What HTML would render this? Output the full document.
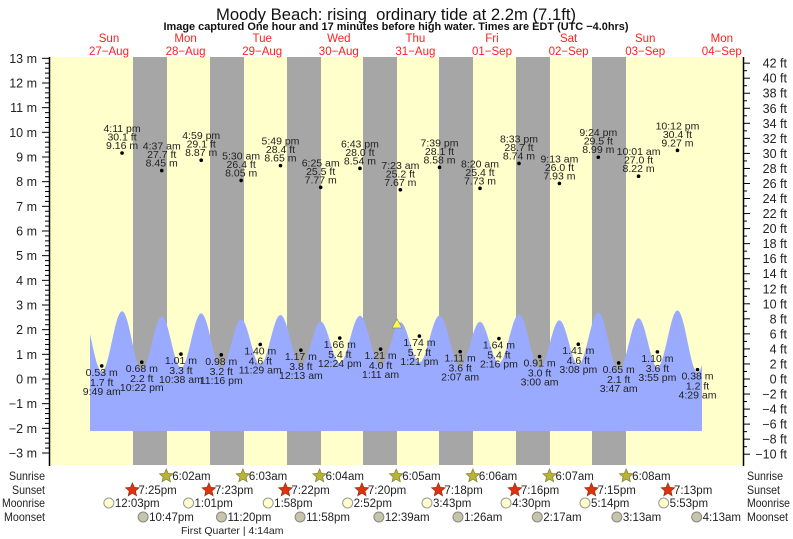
<!DOCTYPE html>
<html><head><meta charset="utf-8"><style>
html,body{margin:0;padding:0;background:#fff;}
svg{display:block;font-family:"Liberation Sans",sans-serif;}
</style></head><body>
<svg id="s" width="793" height="539" xmlns="http://www.w3.org/2000/svg"></svg>
<script>
const S=document.getElementById('s');let h='';
const X0=147,PH=76.6/24;
const xt=(d,hh,mm,pm)=>{let H=(hh%12)+(pm?12:0)+mm/60;return X0+(d*24+H)*PH;};
const ym=m=>453-(m+3)*24.667;
h+='<rect x="50" y="57" width="693" height="408" fill="#ffffcc"/>';
[133,210,287,363,439,516,592].forEach(x=>h+=`<rect x="${x}" y="57" width="34" height="408" fill="#a6a6a6"/>`);
const ex=[
[-1,9,49,0,0.53,'L'],[-1,4,11,1,9.16,'H','4:11 pm','30.1 ft'],[-1,10,22,1,0.68,'L'],
[0,4,37,0,8.45,'H','4:37 am','27.7 ft'],[0,10,38,0,1.01,'L'],[0,4,59,1,8.87,'H','4:59 pm','29.1 ft'],[0,11,16,1,0.98,'L'],
[1,5,30,0,8.05,'H','5:30 am','26.4 ft'],[1,11,29,0,1.40,'L'],[1,5,49,1,8.65,'H','5:49 pm','28.4 ft'],[2,0,13,0,1.17,'L'],
[2,6,25,0,7.77,'H','6:25 am','25.5 ft'],[2,0,24,1,1.66,'L'],[2,6,43,1,8.54,'H','6:43 pm','28.0 ft'],[3,1,11,0,1.21,'L'],
[3,7,23,0,7.67,'H','7:23 am','25.2 ft'],[3,1,21,1,1.74,'L'],[3,7,39,1,8.58,'H','7:39 pm','28.1 ft'],[4,2,7,0,1.11,'L'],
[4,8,20,0,7.73,'H','8:20 am','25.4 ft'],[4,2,16,1,1.64,'L'],[4,8,33,1,8.74,'H','8:33 pm','28.7 ft'],[5,3,0,0,0.91,'L'],
[5,9,13,0,7.93,'H','9:13 am','26.0 ft'],[5,3,8,1,1.41,'L'],[5,9,24,1,8.99,'H','9:24 pm','29.5 ft'],[6,3,47,0,0.65,'L'],
[6,10,1,0,8.22,'H','10:01 am','27.0 ft'],[6,3,55,1,1.10,'L'],[6,10,12,1,9.27,'H','10:12 pm','30.4 ft'],[7,4,29,0,0.38,'L']];
const lowTxt=['9:49 am','10:22 pm','10:38 am','11:16 pm','11:29 am','12:13 am','12:24 pm','1:11 am','1:21 pm','2:07 am','2:16 pm','3:00 am','3:08 pm','3:47 am','3:55 pm','4:29 am'];
const pts=ex.map(e=>[xt(e[0],e[1],e[2],e[3]),e[4]*0.3+(e[5]=='L'?0.15:0)]);
let poly=[];const x0=90,x1=702;
for(let x=x0;x<=x1;x+=1){let i=0;while(i<pts.length-2&&pts[i+1][0]<x)i++;
 let a=pts[i],b=pts[i+1];let t=(x-a[0])/(b[0]-a[0]);t=Math.max(-0.6,Math.min(1.6,t));
 let v=a[1]+(b[1]-a[1])*(1-Math.cos(Math.PI*t))/2;poly.push(x+','+ym(v).toFixed(1));}
h+=`<polygon points="${x0},431 ${poly.join(' ')} ${x1},431" fill="#9aaaff"/>`;
let li=0;
ex.forEach((e,k)=>{const x=pts[k][0],y=ym(e[4]);h+=`<circle cx="${x}" cy="${y}" r="1.8" fill="#000"/>`;
 const T=(t,yy)=>h+=`<text x="${x}" y="${yy}" font-size="10.5" text-anchor="middle" fill="#222">${t}</text>`;
 if(e[5]=='H'){T(e[6],y-21);T(e[7],y-12.5);T(e[4].toFixed(2)+' m',y-4);}
 else{T(e[4].toFixed(2)+' m',y+10);T((e[4]*3.2808).toFixed(1)+' ft',y+20);T(lowTxt[li++],y+29);}
});
h+=`<polygon points="397,319 392,328 402,328" fill="#ffff44" stroke="#888" stroke-width="0.7"/>`;
h+='<line x1="49.5" y1="57" x2="49.5" y2="466" stroke="#000" stroke-width="1.5"/><line x1="743.5" y1="57" x2="743.5" y2="466" stroke="#000" stroke-width="1.5"/>';
for(let m=-3;m<=13;m++){const y=ym(m);h+=`<line x1="42" y1="${y}" x2="49" y2="${y}" stroke="#000"/><text x="37" y="${y+4.5}" font-size="12.5" text-anchor="end" fill="#222">${String(m).replace('-','\u2212')} m</text>`;
 if(m<13)for(let j=1;j<5;j++){const yy=y-j*24.667/5;h+=`<line x1="45" y1="${yy}" x2="49" y2="${yy}" stroke="#000"/>`;}}
for(let f=-10;f<=42;f++){const y=379-f*7.52;if(y<57||y>465)continue;
 if(f%2==0){h+=`<line x1="743" y1="${y}" x2="750" y2="${y}" stroke="#000"/><text x="787" y="${y+4.5}" font-size="12.5" text-anchor="end" fill="#222">${String(f).replace('-','\u2212')} ft</text>`;}
 else h+=`<line x1="743" y1="${y}" x2="747" y2="${y}" stroke="#000"/>`;}
h+='<text x="396" y="20" font-size="17" text-anchor="middle" fill="#111" textLength="360" lengthAdjust="spacingAndGlyphs">Moody Beach: rising\u00a0 ordinary tide at 2.2m (7.1ft)</text>';
h+='<text x="396" y="30" font-size="11" font-weight="bold" text-anchor="middle" fill="#111" textLength="465" lengthAdjust="spacingAndGlyphs">Image captured One hour and 17 minutes before high water. Times are EDT (UTC \u22124.0hrs)</text>';
const days=[['Sun','27\u2212Aug'],['Mon','28\u2212Aug'],['Tue','29\u2212Aug'],['Wed','30\u2212Aug'],['Thu','31\u2212Aug'],['Fri','01\u2212Sep'],['Sat','02\u2212Sep'],['Sun','03\u2212Sep'],['Mon','04\u2212Sep']];
days.forEach((d,i)=>{const x=109+i*76.6;h+=`<text x="${x}" y="42" font-size="11.5" text-anchor="middle" fill="#ff2020">${d[0]}</text><text x="${x}" y="55" font-size="11.5" text-anchor="middle" fill="#ff2020">${d[1]}</text>`;});
const rows=[['Sunrise',480,36],['Sunset',494,33],['Moonrise',507,43],['Moonset',521,41]];
rows.forEach(r=>{h+=`<text x="${45-r[2]}" y="${r[1]}" font-size="12" fill="#222" textLength="${r[2]}" lengthAdjust="spacingAndGlyphs">${r[0]}</text><text x="747" y="${r[1]}" font-size="12" fill="#222" textLength="${r[2]}" lengthAdjust="spacingAndGlyphs">${r[0]}</text>`;});
const star=(x,y,c,s)=>{let p=[];for(let i=0;i<10;i++){const a=-Math.PI/2+i*Math.PI/5,rr=i%2?3.2:7;p.push((x+rr*Math.cos(a)).toFixed(1)+','+(y+rr*Math.sin(a)).toFixed(1));}return `<polygon points="${p.join(' ')}" fill="${c}" stroke="${s}" stroke-width="0.8"/>`;};
['6:02am','6:03am','6:04am','6:05am','6:06am','6:07am','6:08am'].forEach((t,i)=>{const x=xt(i,6,2+i,0);h+=star(x,476,'#b8b43a','#8a8630')+`<text x="${x+6}" y="480" font-size="11.5" fill="#222">${t}</text>`;});
['7:25pm','7:23pm','7:22pm','7:20pm','7:18pm','7:16pm','7:15pm','7:13pm'].forEach((t,i)=>{const mm=+t.split(':')[1].slice(0,2);const x=xt(i-1,7,mm,1);h+=star(x,490,'#dd3311','#993311')+`<text x="${x+6}" y="494" font-size="11.5" fill="#222">${t}</text>`;});
[['12:03pm',-1,12,3],['1:01pm',0,1,1],['1:58pm',1,1,58],['2:52pm',2,2,52],['3:43pm',3,3,43],['4:30pm',4,4,30],['5:14pm',5,5,14],['5:53pm',6,5,53]].forEach(m=>{const x=xt(m[1],m[2],m[3],1);h+=`<circle cx="${x}" cy="503" r="5" fill="#ffffcc" stroke="#999"/><text x="${x+6}" y="507" font-size="11.5" fill="#222">${m[0]}</text>`;});
[['10:47pm',-1,10,47,1],['11:20pm',0,11,20,1],['11:58pm',1,11,58,1],['12:39am',3,0,39,0],['1:26am',4,1,26,0],['2:17am',5,2,17,0],['3:13am',6,3,13,0],['4:13am',7,4,13,0]].forEach(m=>{const x=xt(m[1],m[2],m[3],m[4]);h+=`<circle cx="${x}" cy="517" r="5" fill="#c8c4a8" stroke="#888"/><text x="${x+6}" y="521" font-size="11.5" fill="#222">${m[0]}</text>`;});
h+='<text x="181" y="534" font-size="10.5" fill="#222">First Quarter | 4:14am</text>';
S.innerHTML=h;
</script>
</body></html>
